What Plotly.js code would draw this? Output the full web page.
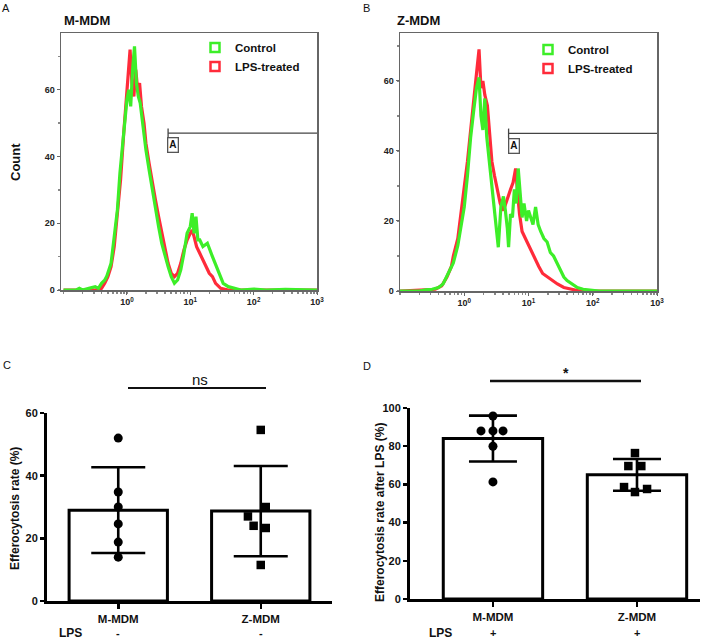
<!DOCTYPE html>
<html>
<head>
<meta charset="utf-8">
<script src="https://cdn.plot.ly/plotly-3.0.1.min.js"></script>
<style>
html,body{margin:0;padding:0;background:#fff;}
#chart{width:709px;height:640px;}
</style>
</head>
<body>
<div id="chart"></div>
<script>
// ---------- Panel A: M-MDM histogram (log10 of fluorescence, count) ----------
const histA_ctrl_log = [-1.0,-0.8,-0.75,-0.7,-0.6,-0.5,-0.45,-0.4,-0.35,-0.32,-0.25,-0.22,-0.15,-0.11,-0.05,0.0,0.03,0.06,0.09,0.12,0.15,0.18,0.21,0.25,0.3,0.35,0.4,0.45,0.5,0.55,0.6,0.65,0.7,0.75,0.8,0.85,0.9,0.95,1.0,1.03,1.06,1.09,1.12,1.15,1.2,1.27,1.35,1.43,1.52,1.6,1.7,1.8,2.0,2.2,2.5,3.0];
const histA_ctrl_cnt = [0,0,0.5,0,0.5,1,0.5,2,3,4,8,13,24,35,48,57,60,55,66,73,62,58,56,49,42,36,30,25,19,14,10,7,4,2,3,6,11,17,19,23,17,22,15,15,13,14,10,6,2,1,0.5,0,0.3,0,0.2,0];
const histA_lps_log = [-1.0,-0.5,-0.4,-0.35,-0.3,-0.25,-0.2,-0.15,-0.1,-0.05,0.0,0.03,0.05,0.08,0.11,0.14,0.17,0.2,0.23,0.27,0.3,0.35,0.4,0.45,0.5,0.55,0.6,0.65,0.7,0.75,0.8,0.85,0.9,0.95,1.0,1.03,1.06,1.1,1.15,1.2,1.25,1.3,1.35,1.4,1.48,1.6,3.0];
const histA_lps_cnt = [0,0,0.5,2,4,7,13,22,33,47,60,68,72,62,58,66,60,62,55,50,44,38,32,27,22,17,12,8,5,4,5,8,12,15,17,18,16,13,11,9,7,5,4,2,0.5,0,0];

// ---------- Panel B: Z-MDM histogram ----------
const histB_ctrl_log = [-1.0,-0.7,-0.6,-0.5,-0.4,-0.33,-0.25,-0.17,-0.1,-0.06,0.0,0.05,0.1,0.15,0.19,0.23,0.26,0.29,0.32,0.35,0.39,0.42,0.45,0.48,0.51,0.53,0.57,0.61,0.64,0.67,0.69,0.72,0.75,0.78,0.81,0.84,0.87,0.9,0.93,0.97,1.0,1.03,1.07,1.11,1.15,1.19,1.24,1.29,1.34,1.39,1.44,1.5,1.55,1.6,1.68,1.76,1.85,1.95,2.1,3.0];
const histB_ctrl_cnt = [0,0,0.3,0.5,1,2,5,8,13,17,24,33,44,52,58,61,50,46,55,44,37,32,26,22,17,12.5,24,27,23,18,12.5,22,21,29,25,35,28,21,25,20,23,21,19,24,19,17,15,14,11,10,8,6,4,3,2,1,0.5,0.3,0,0];
const histB_lps_log = [-1.0,-0.6,-0.45,-0.35,-0.27,-0.2,-0.17,-0.1,-0.06,0.0,0.05,0.1,0.15,0.19,0.23,0.26,0.29,0.32,0.36,0.4,0.43,0.47,0.51,0.56,0.61,0.66,0.72,0.76,0.8,0.83,0.86,0.9,0.95,0.98,1.03,1.1,1.16,1.22,1.29,1.37,1.45,1.55,1.66,1.8,3.0];
const histB_lps_cnt = [0,0.2,0.5,1.5,4,7,10,15,21,29,37,46,56,62,69,58,60,56,53,44,37,33,29,25,23,26,29,31,35,28,22,17,15,14,12,9,7,5,4,3,2,1,0.5,0,0];

const histTickVals = [1, 10, 100, 1000];
const histTickText = ['10<sup>0</sup>', '10<sup>1</sup>', '10<sup>2</sup>', '10<sup>3</sup>'];
const countTicks = [0, 20, 40, 60];
const rateTicksC = [0, 20, 40, 60];
const rateTicksD = [0, 20, 40, 60, 80, 100];

// gate "A" (log10 start, level)
const gateA = {startLog: 0.65, level: 47};
const gateB = {startLog: 0.69, level: 45};

// ---------- Panels C & D ----------
const groups = ['M-MDM', 'Z-MDM'];
const lpsC = ['-', '-'];
const lpsD = ['+', '+'];

const meanC = [29, 28.7];
const sdC = [13.7, 14.4];
const ptsC_M = [52, 34.8, 30, 24.6, 18.8, 14];
const jitC_M = [0, 0, 0, 0, 0, 0];
const ptsC_Z = [54.6, 30, 27, 24, 23.3, 11.5];
const jitC_Z = [0, 0.035, -0.09, -0.05, 0.035, 0];

const meanD = [84, 65];
const sdD = [12, 8.3];
const ptsD_M = [95.8, 88, 88, 88, 80, 61.3];
const jitD_M = [0, -0.083, 0, 0.07, 0, 0];
const ptsD_Z = [76.4, 69.6, 69.6, 58.6, 56, 57.6];
const jitD_Z = [-0.014, -0.06, 0.03, -0.09, -0.014, 0.07];

// ---------- helpers ----------
const W = 709, H = 640;
const px = v => v / W;
const py = v => 1 - v / H;
const pow10 = arr => arr.map(v => Math.pow(10, v));
const B = s => '<b>' + s + '</b>';
const FONT = 'Liberation Sans, Arial, sans-serif';
const GREEN = '#3dee28';
const RED = '#ff2b3a';

const traces = [];
// histograms
traces.push({x: pow10(histA_lps_log), y: histA_lps_cnt, xaxis: 'x', yaxis: 'y', mode: 'lines',
  line: {color: RED, width: 3.2}, showlegend: false, hoverinfo: 'skip'});
traces.push({x: pow10(histA_ctrl_log), y: histA_ctrl_cnt, xaxis: 'x', yaxis: 'y', mode: 'lines',
  line: {color: GREEN, width: 3.2}, showlegend: false, hoverinfo: 'skip'});
traces.push({x: pow10(histB_lps_log), y: histB_lps_cnt, xaxis: 'x2', yaxis: 'y2', mode: 'lines',
  line: {color: RED, width: 3.2}, showlegend: false, hoverinfo: 'skip'});
traces.push({x: pow10(histB_ctrl_log), y: histB_ctrl_cnt, xaxis: 'x2', yaxis: 'y2', mode: 'lines',
  line: {color: GREEN, width: 3.2}, showlegend: false, hoverinfo: 'skip'});
// legend entries
const legTrace = (name, color, leg, xa, ya) => ({x: [null], y: [null], xaxis: xa, yaxis: ya, mode: 'markers', name: B(name),
  marker: {symbol: 'square-open', size: 9, color: color, line: {width: 2.5, color: color}}, legend: leg, showlegend: true});
traces.push(legTrace('Control', GREEN, 'legend', 'x', 'y'));
traces.push(legTrace('LPS-treated', RED, 'legend', 'x', 'y'));
traces.push(legTrace('Control', GREEN, 'legend2', 'x2', 'y2'));
traces.push(legTrace('LPS-treated', RED, 'legend2', 'x2', 'y2'));

// bars
const barT = (means, sds, xa, ya, capw) => ({type: 'bar', x: groups.map((g, i) => i), y: means, xaxis: xa, yaxis: ya,
  width: 0.69, marker: {color: '#fff', line: {color: '#000', width: 3}},
  error_y: {type: 'data', array: sds, visible: true, color: '#000', thickness: 2.6, width: capw},
  showlegend: false, hoverinfo: 'skip'});
traces.push(barT(meanC, sdC, 'x3', 'y3', 27));
traces.push(barT(meanD, sdD, 'x4', 'y4', 24));
const ptT = (vals, jit, gi, sym, xa, ya) => ({type: 'scatter', mode: 'markers', x: vals.map((v, i) => gi + jit[i]), y: vals,
  xaxis: xa, yaxis: ya, marker: {symbol: sym, size: sym === 'circle' ? 9 : 8.5, color: '#000'}, showlegend: false, hoverinfo: 'skip'});
traces.push(ptT(ptsC_M, jitC_M, 0, 'circle', 'x3', 'y3'));
traces.push(ptT(ptsC_Z, jitC_Z, 1, 'square', 'x3', 'y3'));
traces.push(ptT(ptsD_M, jitD_M, 0, 'circle', 'x4', 'y4'));
traces.push(ptT(ptsD_Z, jitD_Z, 1, 'square', 'x4', 'y4'));

const histX = (dom, anchor, lo) => ({domain: dom, anchor: anchor, type: 'log', range: [lo, 3.0],
  tickvals: histTickVals, ticktext: histTickText.map(B),
  ticks: 'outside', ticklen: 3, tickwidth: 1, tickcolor: '#666',
  minor: {ticks: 'outside', ticklen: 2, tickwidth: 1.5, tickcolor: '#888', dtick: 'D1', showgrid: false},
  showline: true, linecolor: '#666', linewidth: 1.5, mirror: true, showgrid: false, zeroline: false,
  tickfont: {family: FONT, size: 9, color: '#222'}});
const histY = (dom, anchor, top) => ({domain: dom, anchor: anchor, range: [0, top],
  tickvals: countTicks, ticktext: countTicks.map(v => B(v)), ticks: 'outside', ticklen: 3, tickwidth: 1, tickcolor: '#666',
  minor: {ticks: 'outside', ticklen: 2, tickwidth: 1.5, tickcolor: '#888', dtick: 10, showgrid: false},
  showline: true, linecolor: '#666', linewidth: 1.5, mirror: true, showgrid: false, zeroline: false,
  tickfont: {family: FONT, size: 9, color: '#222'}});
const barX = (dom, anchor, rng) => ({domain: dom, anchor: anchor, range: rng, tickvals: [0, 1], ticktext: groups.map(B),
  ticks: 'outside', ticklen: 5, tickwidth: 2.5, tickcolor: '#000', showline: true, linecolor: '#000', linewidth: 3,
  showgrid: false, zeroline: false, tickfont: {family: FONT, size: 11.5, color: '#111'}});
const barY = (dom, anchor, rng, tv) => ({domain: dom, anchor: anchor, range: rng, tickvals: tv, ticktext: tv.map(v => B(v)),
  ticks: 'outside', ticklen: 4, tickwidth: 2.5, tickcolor: '#000', showline: true, linecolor: '#000', linewidth: 3,
  showgrid: false, zeroline: false, tickfont: {family: FONT, size: 11, color: '#111'}});

const ann = (x, y, text, opts) => Object.assign({xref: 'paper', yref: 'paper', x: px(x), y: py(y), text: text,
  showarrow: false, xanchor: 'center', yanchor: 'middle', font: {family: FONT, size: 12, color: '#111'}}, opts || {});
const fnt = (size) => ({family: FONT, size: size, color: '#111'});

const annotations = [
  ann(6, 8, 'A', {font: fnt(11)}),
  ann(366, 8, 'B', {font: fnt(11)}),
  ann(7, 365, 'C', {font: fnt(11)}),
  ann(367, 366, 'D', {font: fnt(11)}),
  ann(62, 20, B('M-MDM'), {xanchor: 'left', font: fnt(13)}),
  ann(395, 20, B('Z-MDM'), {xanchor: 'left', font: fnt(13)}),
  ann(15, 162, B('Count'), {textangle: -90, font: fnt(13)}),
  ann(15, 509, B('Efferocytosis rate (%)'), {textangle: -90, font: fnt(12)}),
  ann(380, 513, B('Efferocytosis rate after LPS (%)'), {textangle: -90, font: fnt(12)}),
  ann(200, 379, 'ns', {font: fnt(15)}),
  ann(566, 373, B('*'), {font: fnt(14)}),
  ann(70, 633, B('LPS'), {font: fnt(12)}),
  ann(440, 633, B('LPS'), {font: fnt(12)}),
  // gate labels
  {xref: 'x', yref: 'y', x: gateA.startLog + 0.08, y: gateA.level - 3.5, text: B('A'), showarrow: false,
    font: fnt(10), bordercolor: '#555', borderwidth: 1.3, borderpad: 1, bgcolor: '#fff'},
  {xref: 'x2', yref: 'y2', x: gateB.startLog + 0.08, y: gateB.level - 3.5, text: B('A'), showarrow: false,
    font: fnt(10), bordercolor: '#555', borderwidth: 1.3, borderpad: 1, bgcolor: '#fff'}
];
// LPS +/- under categories
lpsC.forEach((s, i) => annotations.push({xref: 'x3', yref: 'paper', x: i, y: py(633), text: B(s), showarrow: false,
  font: fnt(11), xanchor: 'center', yanchor: 'middle'}));
lpsD.forEach((s, i) => annotations.push({xref: 'x4', yref: 'paper', x: i, y: py(633), text: B(s), showarrow: false,
  font: fnt(11), xanchor: 'center', yanchor: 'middle'}));

const shapes = [
  // gate lines
  {type: 'line', xref: 'x', yref: 'y', x0: Math.pow(10, gateA.startLog), x1: 1000, y0: gateA.level, y1: gateA.level, line: {color: '#444', width: 1.3}},
  {type: 'line', xref: 'x', yref: 'y', x0: Math.pow(10, gateA.startLog), x1: Math.pow(10, gateA.startLog), y0: gateA.level - 1.4, y1: gateA.level + 1.4, line: {color: '#444', width: 1.3}},
  {type: 'line', xref: 'x2', yref: 'y2', x0: Math.pow(10, gateB.startLog), x1: 1000, y0: gateB.level, y1: gateB.level, line: {color: '#444', width: 1.3}},
  {type: 'line', xref: 'x2', yref: 'y2', x0: Math.pow(10, gateB.startLog), x1: Math.pow(10, gateB.startLog), y0: gateB.level - 1.4, y1: gateB.level + 1.4, line: {color: '#444', width: 1.3}},
  // significance bars
  {type: 'line', xref: 'paper', yref: 'paper', x0: px(128), x1: px(266), y0: py(388), y1: py(388), line: {color: '#111', width: 2.2}},
  {type: 'line', xref: 'paper', yref: 'paper', x0: px(490), x1: px(641), y0: py(381), y1: py(381), line: {color: '#111', width: 2.5}}
];

const legendStyle = (x, y) => ({x: px(x), y: py(y), xanchor: 'left', yanchor: 'top', bgcolor: 'rgba(0,0,0,0)',
  font: {family: FONT, size: 11.5, color: '#111'}, tracegroupgap: 0, itemwidth: 30});

const layout = {
  width: W, height: H, margin: {l: 0, r: 0, t: 0, b: 0}, paper_bgcolor: '#fff', plot_bgcolor: '#fff',
  showlegend: true,
  legend: legendStyle(195, 33),
  legend2: legendStyle(528, 35),
  xaxis: histX([px(61), px(317)], 'y', -1.04),
  yaxis: histY([py(290), py(33)], 'x', 77),
  xaxis2: histX([px(400), px(657)], 'y2', -1.0),
  yaxis2: histY([py(291), py(33)], 'x2', 73.7),
  xaxis3: barX([px(47), px(332)], 'y3', [-0.5, 1.5]),
  yaxis3: barY([py(601), py(413)], 'x3', [0, 60], rateTicksC),
  xaxis4: barX([px(410), px(700)], 'y4', [-0.576, 1.4375]),
  yaxis4: barY([py(599), py(408)], 'x4', [0, 100], rateTicksD),
  annotations: annotations,
  shapes: shapes
};

Plotly.newPlot('chart', traces, layout, {staticPlot: true, displayModeBar: false});
</script>
</body>
</html>
